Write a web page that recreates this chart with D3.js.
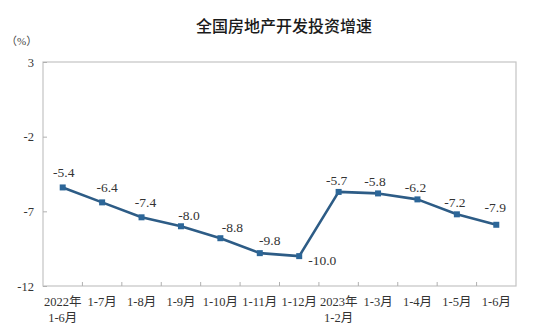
<!DOCTYPE html>
<html>
<head>
<meta charset="utf-8">
<script src="https://cdn.jsdelivr.net/npm/d3@7/dist/d3.min.js"></script>
<style>
  html, body { margin: 0; padding: 0; background: #fff; }
  svg { display: block; }
</style>
</head>
<body>
<svg id="chart" width="540" height="335"></svg>
<script>
// Monthly cumulative growth of national real estate development investment (%)
const periods = [
  ["2022年", "1-6月"], ["1-7月"], ["1-8月"], ["1-9月"], ["1-10月"], ["1-11月"], ["1-12月"],
  ["2023年", "1-2月"], ["1-3月"], ["1-4月"], ["1-5月"], ["1-6月"]
];
const growth = [-5.4, -6.4, -7.4, -8.0, -8.8, -9.8, -10.0, -5.7, -5.8, -6.2, -7.2, -7.9];
const yTicks = [3, -2, -7, -12];
const title = "全国房地产开发投资增速";
const unit = "（%）";

// Nudges for value labels [dx, dy] relative to each point
const labelNudge = [
  [1, -10], [5, -10], [4, -10], [8, -6], [12, -6], [10, -8],
  [23, 9], [-2, -7], [-3, -7], [-2, -7], [-2, -7], [-1, -13]
];

const svg = d3.select("#chart");
const plot = { left: 43, right: 516, top: 62, bottom: 286 };
const serif = "'Liberation Serif', 'Times New Roman', 'Noto Sans CJK SC', serif";
const fmtValue = d => d.toFixed(1);   // plain hyphen-minus, as printed

const x = d3.scaleBand()
  .domain(d3.range(growth.length))
  .range([plot.left, plot.right])
  .padding(0);

const y = d3.scaleLinear()
  .domain([-12, 3])
  .range([plot.bottom, plot.top]);

// Title and unit
svg.append("text")
  .attr("x", 284).attr("y", 32)
  .attr("text-anchor", "middle")
  .attr("font-family", "'Noto Sans CJK SC', sans-serif")
  .attr("font-size", 16)
  .attr("font-weight", 500)
  .attr("fill", "#1a1a1a")
  .text(title);

svg.append("text")
  .attr("x", 6).attr("y", 45)
  .attr("font-family", serif)
  .attr("font-size", 11)
  .attr("fill", "#444")
  .text(unit);

// Plot frame
svg.append("rect")
  .attr("x", plot.left).attr("y", plot.top)
  .attr("width", plot.right - plot.left)
  .attr("height", plot.bottom - plot.top)
  .attr("fill", "none")
  .attr("stroke", "#c4c4c4")
  .attr("stroke-width", 1.2);

// Y axis
const yAxis = svg.append("g")
  .attr("transform", `translate(${plot.left},0)`)
  .call(d3.axisLeft(y).tickValues(yTicks).tickSize(-4).tickPadding(9).tickFormat(d => String(d)));
yAxis.attr("font-family", serif);
yAxis.select(".domain").remove();
yAxis.selectAll(".tick line").attr("stroke", "#b0b0b0");
yAxis.selectAll(".tick text")
  .attr("font-family", serif)
  .attr("font-size", 12.5)
  .attr("fill", "#333");

// X axis: tick marks on band boundaries, labels centred on bands
const xAxis = svg.append("g")
  .attr("transform", `translate(0,${plot.bottom})`)
  .call(d3.axisBottom(x).tickSize(0).tickFormat(""));
xAxis.attr("font-family", serif);
xAxis.select(".domain").remove();

const boundaries = d3.range(1, growth.length).map(i => x(i));
xAxis.selectAll("line.boundary")
  .data(boundaries)
  .join("line")
  .attr("class", "boundary")
  .attr("x1", d => d).attr("x2", d => d)
  .attr("y1", 0).attr("y2", -4)
  .attr("stroke", "#b0b0b0");

xAxis.selectAll(".tick").each(function(d) {
  const t = d3.select(this).select("text")
    .attr("y", 0)
    .attr("dy", null)
    .attr("font-family", serif)
    .attr("font-size", 12.5)
    .attr("fill", "#333");
  periods[d].forEach((line, k) => {
    t.append("tspan")
      .attr("x", 0)
      .attr("y", 20 + k * 16)
      .text(line);
  });
});

// Series line
const cx = i => x(i) + x.bandwidth() / 2;
const line = d3.line()
  .x((d, i) => cx(i))
  .y(d => y(d));

svg.append("path")
  .datum(growth)
  .attr("d", line)
  .attr("fill", "none")
  .attr("stroke", "#2d5c86")
  .attr("stroke-width", 2.6)
  .attr("stroke-linejoin", "round");

// Square markers
svg.selectAll("rect.marker")
  .data(growth)
  .join("rect")
  .attr("class", "marker")
  .attr("x", (d, i) => cx(i) - 3)
  .attr("y", d => y(d) - 3)
  .attr("width", 6).attr("height", 6)
  .attr("fill", "#2c6698");

// Value labels
svg.selectAll("text.value")
  .data(growth)
  .join("text")
  .attr("class", "value")
  .attr("x", (d, i) => cx(i) + labelNudge[i][0])
  .attr("y", (d, i) => y(d) + labelNudge[i][1])
  .attr("text-anchor", "middle")
  .attr("font-family", serif)
  .attr("font-size", 13.5)
  .attr("fill", "#333")
  .text(fmtValue);
</script>
</body>
</html>
